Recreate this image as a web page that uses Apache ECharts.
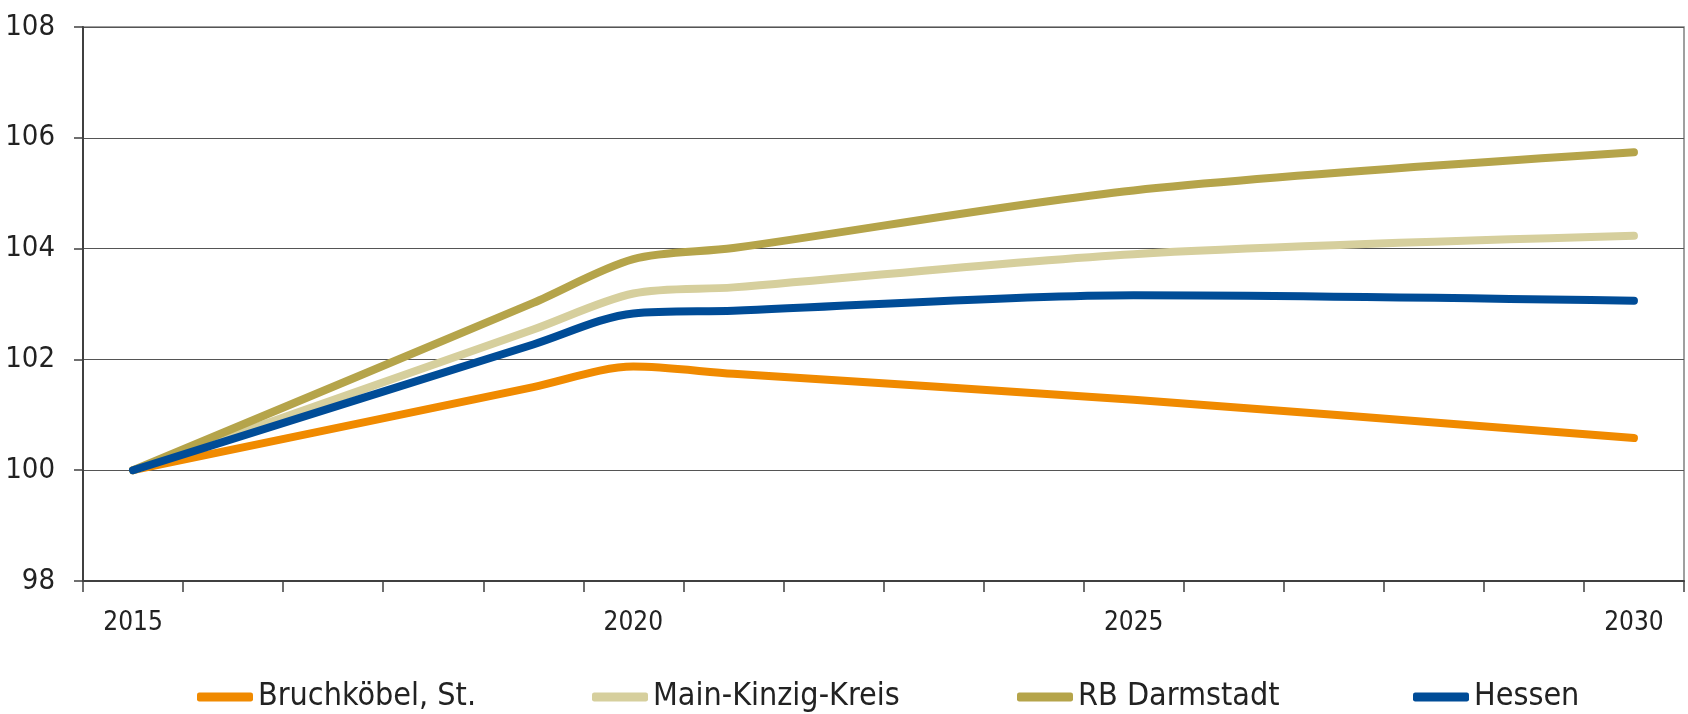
<!DOCTYPE html>
<html>
<head>
<meta charset="utf-8">
<script src="https://cdn.jsdelivr.net/npm/echarts@6/dist/echarts.min.js"></script>
<style>
html,body{margin:0;padding:0;background:#fff;}
#chart{width:1688px;height:714px;}
</style>
</head>
<body>
<div id="chart"></div>
<script>
const years = ['2015','2016','2017','2018','2019','2020','2021','2022','2023','2024','2025','2026','2027','2028','2029','2030'];
const seriesNames = ['Bruchköbel, St.', 'Main-Kinzig-Kreis', 'RB Darmstadt', 'Hessen'];
const bruchkoebel = [100, null, null, null, 101.50, 101.87, 101.74, null, null, null, 101.27, null, null, null, null, 100.58];
const mainKinzig  = [100, null, null, null, 102.54, 103.19, 103.30, null, null, null, 103.90, null, null, null, null, 104.23];
const rbDarmstadt = [100, null, null, null, 103.02, 103.81, 104.01, null, null, null, 105.05, null, null, null, null, 105.74];
const hessen      = [100, null, null, null, 102.27, 102.83, 102.88, null, null, null, 103.16, null, null, null, null, 103.06];
const yTicks = { min: 98, max: 108, interval: 2 };
const colors = ['#F08A00', '#D6CF9D', '#B5A44A', '#004C97'];
const values = [bruchkoebel, mainKinzig, rbDarmstadt, hessen];

const FONT = '"DejaVu Sans Condensed", "Liberation Sans Narrow", "Noto Sans", sans-serif';
const legendLefts = [197, 592, 1017, 1413];

const chart = echarts.init(document.getElementById('chart'));
chart.setOption({
  animation: false,
  backgroundColor: '#fff',
  color: colors,
  grid: { left: 83, right: 4, top: 27, bottom: 133, show: true, borderColor: '#808080', borderWidth: 1.5 },
  legend: seriesNames.map((n, i) => ({
    data: [n],
    left: legendLefts[i],
    top: 677,
    padding: 0,
    icon: 'roundRect',
    itemWidth: 56,
    itemHeight: 9,
    itemGap: 0,
    textStyle: { fontFamily: FONT, fontSize: 32, color: '#222', lineHeight: 40 }
  })),
  xAxis: {
    type: 'category',
    data: years,
    boundaryGap: true,
    axisLine: { lineStyle: { color: '#404040', width: 2 } },
    axisTick: { show: true, length: 11, interval: 0, lineStyle: { color: '#404040', width: 1.5 } },
    axisLabel: {
      interval: 4, margin: 29,
      fontFamily: FONT, fontSize: 26, color: '#222'
    },
    splitLine: { show: false }
  },
  yAxis: {
    type: 'value',
    min: yTicks.min, max: yTicks.max, interval: yTicks.interval,
    axisLine: { show: true, lineStyle: { color: '#404040', width: 2 } },
    axisTick: { show: true, length: 9, lineStyle: { color: '#404040', width: 1.5 } },
    axisLabel: { margin: 28, fontFamily: FONT, fontSize: 29, color: '#222' },
    splitLine: { show: true, lineStyle: { color: '#555', width: 1.2 } }
  },
  series: seriesNames.map((n, i) => ({
    name: n,
    type: 'line',
    data: values[i],
    connectNulls: true,
    smooth: 0.3,
    symbol: 'none',
    lineStyle: { width: 8, color: colors[i], cap: 'round', join: 'round' },
    itemStyle: { color: colors[i] }
  }))
});
</script>
</body>
</html>
